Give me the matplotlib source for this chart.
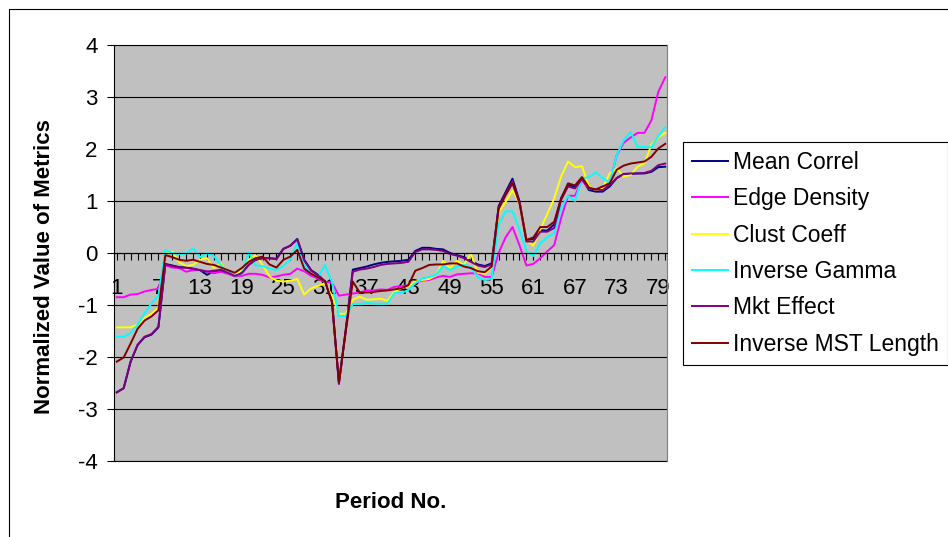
import numpy as np
import matplotlib
matplotlib.use("Agg")
import matplotlib.pyplot as plt
from matplotlib.patches import Rectangle

plt.rcParams['font.family'] = ['Liberation Sans', 'DejaVu Sans']
plt.rcParams['axes.unicode_minus'] = False

periods = np.arange(1, 81)

mean_correl = [
    -2.68, -2.60, -2.09, -1.77, -1.62, -1.57, -1.43, -0.21, -0.24, -0.27,
    -0.28, -0.30, -0.33, -0.42, -0.35, -0.33, -0.38, -0.44, -0.38, -0.23,
    -0.13, -0.10, -0.10, -0.11, 0.08, 0.14, 0.27, -0.13, -0.33, -0.42,
    -0.55, -0.92, -2.50, -1.45, -0.32, -0.29, -0.26, -0.22, -0.19, -0.17,
    -0.16, -0.15, -0.13, 0.04, 0.10, 0.10, 0.08, 0.07, 0.00, -0.04,
    -0.08, -0.15, -0.22, -0.25, -0.20, 0.90, 1.17, 1.43, 1.00, 0.25,
    0.27, 0.44, 0.43, 0.55, 1.05, 1.31, 1.27, 1.44, 1.21, 1.18,
    1.18, 1.28, 1.44, 1.52, 1.52, 1.53, 1.53, 1.56, 1.65, 1.66]

edge_density = [
    -0.85, -0.85, -0.80, -0.79, -0.74, -0.71, -0.69, -0.24, -0.28, -0.29,
    -0.36, -0.33, -0.33, -0.35, -0.39, -0.36, -0.40, -0.45, -0.44, -0.40,
    -0.40, -0.42, -0.47, -0.45, -0.42, -0.40, -0.30, -0.35, -0.44, -0.49,
    -0.56, -0.57, -0.82, -0.80, -0.78, -0.76, -0.72, -0.72, -0.70, -0.71,
    -0.65, -0.64, -0.62, -0.57, -0.53, -0.52, -0.47, -0.44, -0.46, -0.41,
    -0.40, -0.39, -0.39, -0.46, -0.46, 0.00, 0.30, 0.50, 0.15, -0.24,
    -0.21, -0.10, 0.03, 0.15, 0.67, 1.10, 1.10, 1.40, 1.24, 1.22,
    1.28, 1.34, 1.88, 2.12, 2.22, 2.31, 2.31, 2.55, 3.10, 3.38]

clust_coeff = [
    -1.43, -1.43, -1.43, -1.38, -1.25, -1.17, -1.05, -0.02, 0.03, -0.18,
    -0.25, -0.23, -0.13, -0.10, -0.29, -0.20, -0.38, -0.43, -0.33, -0.13,
    -0.04, -0.23, -0.45, -0.53, -0.55, -0.53, -0.50, -0.80, -0.68, -0.63,
    -0.58, -0.82, -1.17, -1.17, -0.90, -0.84, -0.90, -0.89, -0.88, -0.92,
    -0.74, -0.68, -0.64, -0.55, -0.52, -0.50, -0.43, -0.15, -0.29, -0.15,
    -0.23, -0.01, -0.38, -0.40, -0.28, 0.78, 0.98, 1.20, 0.96, 0.24,
    0.14, 0.45, 0.75, 1.05, 1.47, 1.76, 1.65, 1.67, 1.28, 1.21,
    1.25, 1.53, 1.63, 1.47, 1.50, 1.66, 1.72, 2.08, 2.22, 2.31]

inverse_gamma = [
    -1.61, -1.61, -1.54, -1.38, -1.16, -0.97, -0.82, 0.06, 0.00, -0.02,
    -0.01, 0.09, -0.08, 0.00, -0.06, -0.23, -0.36, -0.44, -0.40, 0.02,
    -0.24, -0.25, -0.30, -0.33, -0.25, -0.12, 0.19, -0.23, -0.40, -0.47,
    -0.23, -0.56, -1.21, -1.21, -0.98, -0.98, -0.96, -0.97, -0.98, -0.97,
    -0.77, -0.77, -0.71, -0.58, -0.49, -0.46, -0.42, -0.25, -0.33, -0.26,
    -0.23, -0.26, -0.47, -0.52, -0.49, 0.55, 0.80, 0.80, 0.45, 0.04,
    -0.06, 0.19, 0.30, 0.38, 0.87, 1.10, 1.00, 1.43, 1.46, 1.55,
    1.44, 1.35, 1.88, 2.16, 2.33, 2.04, 2.04, 2.03, 2.25, 2.42]

mkt_effect = [
    -2.68, -2.60, -2.09, -1.77, -1.61, -1.56, -1.42, -0.22, -0.25, -0.28,
    -0.28, -0.31, -0.33, -0.36, -0.34, -0.33, -0.38, -0.44, -0.39, -0.23,
    -0.13, -0.10, -0.10, -0.12, 0.08, 0.14, 0.26, -0.14, -0.34, -0.43,
    -0.55, -0.93, -2.52, -1.47, -0.36, -0.32, -0.30, -0.27, -0.23, -0.21,
    -0.20, -0.19, -0.17, 0.02, 0.07, 0.07, 0.06, 0.04, -0.02, -0.05,
    -0.10, -0.17, -0.24, -0.27, -0.22, 0.87, 1.14, 1.38, 0.98, 0.22,
    0.22, 0.41, 0.41, 0.48, 1.02, 1.28, 1.24, 1.42, 1.24, 1.22,
    1.21, 1.31, 1.44, 1.52, 1.53, 1.53, 1.54, 1.58, 1.69, 1.72]

inverse_mst = [
    -2.09, -2.01, -1.74, -1.46, -1.30, -1.22, -1.10, -0.04, -0.08, -0.13,
    -0.15, -0.13, -0.17, -0.21, -0.23, -0.28, -0.33, -0.38, -0.29, -0.17,
    -0.10, -0.07, -0.22, -0.28, -0.13, -0.07, 0.06, -0.30, -0.40, -0.47,
    -0.54, -0.95, -2.48, -1.50, -0.55, -0.76, -0.76, -0.75, -0.73, -0.72,
    -0.70, -0.68, -0.62, -0.34, -0.29, -0.23, -0.22, -0.22, -0.20, -0.20,
    -0.26, -0.29, -0.35, -0.37, -0.26, 0.85, 1.11, 1.34, 0.96, 0.25,
    0.30, 0.50, 0.50, 0.60, 1.05, 1.34, 1.30, 1.46, 1.26, 1.22,
    1.28, 1.34, 1.60, 1.68, 1.72, 1.74, 1.76, 1.85, 2.01, 2.10]

series_names = ["Mean Correl", "Edge Density", "Clust Coeff",
                "Inverse Gamma", "Mkt Effect", "Inverse MST Length"]
series_values = [mean_correl, edge_density, clust_coeff,
                 inverse_gamma, mkt_effect, inverse_mst]
series_colors = ["#000080", "#FF00FF", "#FFFF00",
                 "#00FFFF", "#800080", "#800000"]

W, H = 948, 537
fig = plt.figure(figsize=(W / 100, H / 100), dpi=100)

# plot area in pixel terms: left 114, right 667, top 45, bottom 461
ax = fig.add_axes([114.3 / W, 76 / H, (667 - 114.3) / W, 416 / H])
ax.set_facecolor("#C0C0C0")

for name, vals, col in zip(series_names, series_values, series_colors):
    ax.plot(periods, vals, color=col, lw=1.4, label=name)

ax.set_xlim(0.65, 80.25)
ax.set_ylim(-4, 4)
ax.set_yticks(range(-4, 5))
ax.yaxis.grid(True, color="black", lw=0.8)
ax.set_axisbelow(True)
ax.axhline(4, color="black", lw=0.8, clip_on=False, zorder=0.5)
ax.axhline(-4, color="black", lw=0.8, clip_on=False, zorder=0.5)

# category axis crosses at zero
ax.spines["bottom"].set_position(("data", 0))
ax.spines["bottom"].set_linewidth(0.8)
ax.spines["top"].set_visible(False)
ax.spines["right"].set_color("#808080")
ax.spines["left"].set_linewidth(0.8)

ax.set_xticks(range(1, 81, 6))
ax.set_xticks(periods, minor=True)
ax.tick_params(axis="x", which="both", direction="out", length=5, width=0.8,
               labelsize=16, pad=13)
ax.tick_params(axis="y", direction="out", length=5, width=0.8,
               labelsize=16, pad=7)

fig.text(45 / W, 1 - 267 / H, "Normalized Value of Metrics", rotation=90,
         ha="center", va="center", fontsize=16, fontweight="bold")
fig.text(391 / W, 1 - 503 / H, "Period No.", ha="center", va="center",
         fontsize=16, fontweight="bold")

leg = fig.legend(loc="upper left", bbox_to_anchor=(683 / W, 1 - 142 / H),
                 bbox_transform=fig.transFigure, borderaxespad=0,
                 fontsize=16.5, handlelength=1.55, handletextpad=0.25,
                 borderpad=0.4, labelspacing=0.58, fancybox=False,
                 framealpha=1, edgecolor="black")
leg.get_frame().set_linewidth(0.8)
for line in leg.get_lines():
    line.set_linewidth(1.4)

# chart area border
fig.patches.append(Rectangle((8.5 / W, -0.05), 1.2, 1 - 9 / H + 0.05,
                             transform=fig.transFigure, fill=False,
                             edgecolor="black", lw=0.8))

fig.savefig("out.png", dpi=100)
